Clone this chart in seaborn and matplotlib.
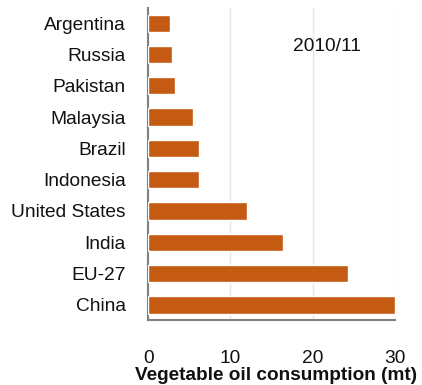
import matplotlib
matplotlib.use("Agg")
import matplotlib.pyplot as plt
import seaborn as sns
import pandas as pd

countries = ["Argentina", "Russia", "Pakistan", "Malaysia", "Brazil",
             "Indonesia", "United States", "India", "EU-27", "China"]
consumption = [2.7, 2.9, 3.3, 5.5, 6.2, 6.2, 12.0, 16.4, 24.3, 30.0]
x_ticks = [0, 10, 20, 30]
season = "2010/11"

df = pd.DataFrame({"country": countries, "consumption": consumption})

sns.set_style("white")
plt.rcParams["font.family"] = ["Liberation Sans", "DejaVu Sans"]

fig = plt.figure(figsize=(4.22, 3.85), dpi=100)
ax = fig.add_axes([0.351, 0.169, 0.585, 0.81])

sns.barplot(data=df, x="consumption", y="country", orient="h",
            color="#C55A12", saturation=1, width=0.55, ax=ax, zorder=3)

ax.set_xlim(0, 30)
ax.set_ylim(9.48, -0.48)
ax.set_xticks(x_ticks)
ax.xaxis.grid(True, color="#e6e6e6", linewidth=1, zorder=0)
ax.yaxis.grid(False)

ax.tick_params(axis="y", length=0, pad=16, labelsize=13.8, labelcolor="#111111")
ax.tick_params(axis="x", length=0, pad=22, labelsize=13.8, labelcolor="#111111")
ax.set_ylabel("")
ax.set_xlabel("Vegetable oil consumption (mt)", fontsize=13.7,
              fontweight="bold", labelpad=0, color="#111111")
ax.xaxis.label.set_x(0.52)

for side in ("top", "right"):
    ax.spines[side].set_visible(False)
ax.spines["left"].set_color("#808080")
ax.spines["left"].set_linewidth(1.5)
ax.spines["bottom"].set_color("#808080")
ax.spines["bottom"].set_linewidth(1.5)

ax.text(21.7, 0.75, season, fontsize=13.8, ha="center", va="center",
        color="#111111")

fig.savefig("out.png", dpi=100)
